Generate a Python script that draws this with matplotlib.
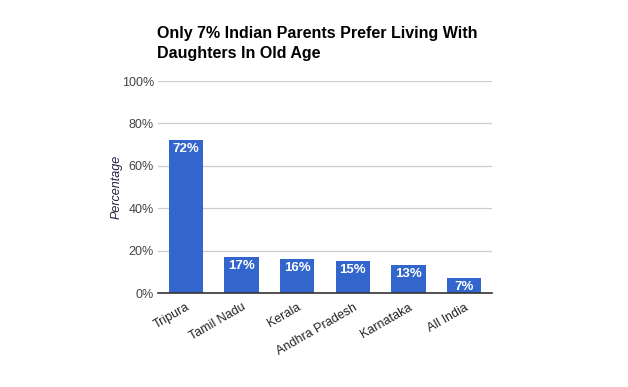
import matplotlib.pyplot as plt
import numpy as np

plt.rcParams['font.family'] = ['Liberation Sans', 'DejaVu Sans']

states = ['Tripura', 'Tamil Nadu', 'Kerala', 'Andhra Pradesh', 'Karnataka', 'All India']
values = [72, 17, 16, 15, 13, 7]
yticks = [0, 20, 40, 60, 80, 100]

fig = plt.figure(figsize=(6.28, 3.87), dpi=100)
ax = fig.add_axes([158 / 628, 94 / 387, 334 / 628, 212 / 387])

x = np.arange(len(states))
bars = ax.bar(x, values, width=0.62, color='#3366cc', zorder=3)

for b, v in zip(bars, values):
    ax.text(b.get_x() + b.get_width() / 2, v - 1.2, f'{v}%', ha='center', va='top',
            color='white', fontsize=9.5, fontweight='bold', zorder=4)

ax.set_xlim(-0.5, len(states) - 0.5)
ax.set_ylim(0, 100)
ax.set_yticks(yticks)
ax.set_yticklabels([f'{t}%' for t in yticks], fontsize=9, color='#444444')
ax.set_xticks(x)
ax.set_xticklabels(states, rotation=30, ha='right', rotation_mode='anchor',
                   fontsize=9, color='#222222')
ax.tick_params(axis='both', length=0, pad=3)
ax.tick_params(axis='x', pad=6)
ax.grid(axis='y', color='#cccccc', linewidth=0.9, zorder=0)
for s in ['top', 'right', 'left']:
    ax.spines[s].set_visible(False)
ax.spines['bottom'].set_color('#333333')
ax.spines['bottom'].set_linewidth(1.2)
ax.spines['bottom'].set_zorder(5)

ax.set_ylabel('Percentage', fontsize=9, style='italic', color='#222244', va='center')
ax.yaxis.set_label_coords(-0.123, 0.5)

fig.text(157 / 628, 1 - 26 / 387, 'Only 7% Indian Parents Prefer Living With\nDaughters In Old Age',
         ha='left', va='top', fontsize=11.5, fontweight='bold', color='black', linespacing=1.45)

fig.savefig('out.png', dpi=100)
